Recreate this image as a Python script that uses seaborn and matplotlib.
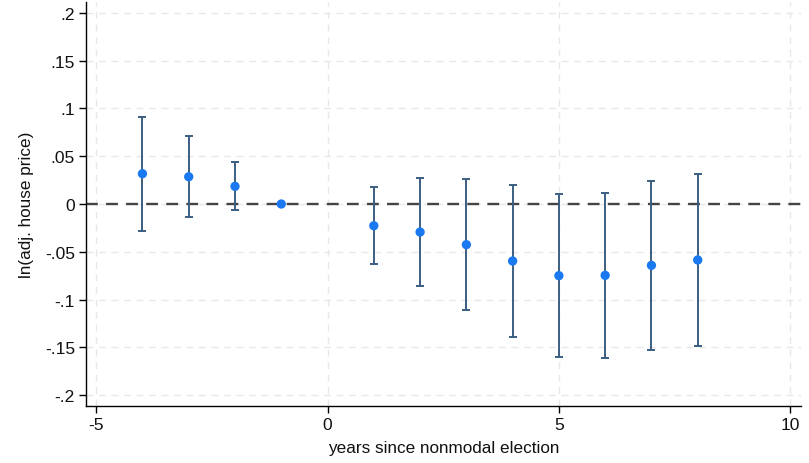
import matplotlib
matplotlib.use("Agg")
import matplotlib.pyplot as plt
import seaborn as sns
import numpy as np
import pandas as pd

# Data
years = [-4, -3, -2, -1, 1, 2, 3, 4, 5, 6, 7, 8]
coef = [0.0317, 0.0285, 0.0185, 0.0, -0.0227, -0.0293, -0.0425, -0.0596, -0.0749, -0.0746, -0.0641, -0.0585]
ci_low = [-0.0279, -0.0133, -0.0063, 0.0, -0.0630, -0.0854, -0.1108, -0.1387, -0.1600, -0.1607, -0.1523, -0.1488]
ci_high = [0.0913, 0.0708, 0.0439, 0.0, 0.0178, 0.0269, 0.0258, 0.0202, 0.0108, 0.0118, 0.0240, 0.0317]
has_ci = [True, True, True, False, True, True, True, True, True, True, True, True]

x_ticks = [-5, 0, 5, 10]
y_ticks = [-0.2, -0.15, -0.1, -0.05, 0, 0.05, 0.1, 0.15, 0.2]
y_tick_labels = ["-.2", "-.15", "-.1", "-.05", "0", ".05", ".1", ".15", ".2"]

df = pd.DataFrame({"year": years, "coef": coef, "lo": ci_low, "hi": ci_high, "ci": has_ci})

sns.set_theme(style="white")
plt.rcParams["font.family"] = ["Liberation Sans", "DejaVu Sans"]
plt.rcParams["text.color"] = "#111111"
plt.rcParams["axes.labelcolor"] = "#111111"
plt.rcParams["xtick.color"] = "#111111"
plt.rcParams["ytick.color"] = "#111111"

fig = plt.figure(figsize=(8.09, 4.64), dpi=100)
ax = fig.add_axes([0.1063, 0.1228, 0.8837, 0.8707])

# grid
for xv in x_ticks:
    ax.axvline(xv, color="#e8e8e8", lw=1.0, ls=(0, (5, 4)), zorder=0)
for yv in y_ticks:
    ax.axhline(yv, color="#e8e8e8", lw=1.0, ls=(0, (5, 4)), zorder=0)

# zero reference line
ax.axhline(0, color="#444444", lw=1.7, ls=(0, (5, 3.5)), zorder=1)

# confidence intervals
d = df[df["ci"]]
ax.errorbar(d["year"], d["coef"],
            yerr=[d["coef"] - d["lo"], d["hi"] - d["coef"]],
            fmt="none", ecolor="#3b5e82", elinewidth=1.4, capsize=3, capthick=1.4, zorder=2)

# point estimates
sns.scatterplot(data=df, x="year", y="coef", ax=ax, color="#1a79f0", s=45,
                edgecolor="none", zorder=3, legend=False)

ax.set_xlim(-5.22, 10.23)
ax.set_ylim(-0.2112, 0.2112)
ax.set_xticks(x_ticks)
ax.set_xticklabels([str(v) for v in x_ticks])
ax.set_yticks(y_ticks)
ax.set_yticklabels(y_tick_labels)

for s in ["top", "right"]:
    ax.spines[s].set_visible(False)
for s in ["left", "bottom"]:
    ax.spines[s].set_color("#000000")
    ax.spines[s].set_linewidth(1.0)

ax.tick_params(axis="both", which="both", direction="out", length=5, width=1,
               color="#000000", labelcolor="#111111", labelsize=12.6, pad=3,
               left=True, bottom=True)

ax.set_xlabel("years since nonmodal election", fontsize=12.3, labelpad=6)
ax.set_ylabel("ln(adj. house price)", fontsize=12.3, labelpad=8)

fig.savefig("out.png", dpi=100)
